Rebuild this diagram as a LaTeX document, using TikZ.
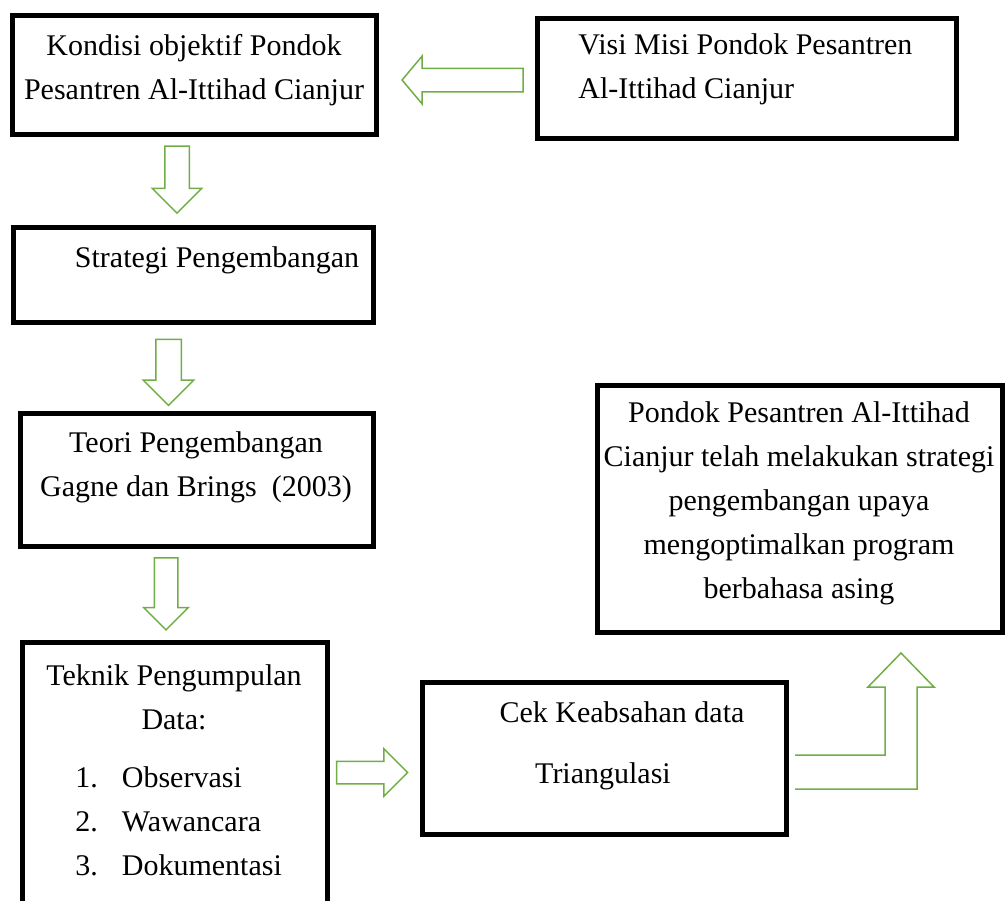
\documentclass[tikz,border=0pt]{standalone}
\usepackage{fontspec}
\setmainfont{Liberation Serif}
\usepackage{tikz}
\usetikzlibrary{shapes.arrows}

\definecolor{arrowgreen}{RGB}{112,173,71}

\begin{document}
\begin{tikzpicture}[x=0.5pt,y=-0.5pt,
    box/.style={draw, line width=2.5pt, rectangle, inner sep=0pt},
    txt/.style={align=center, inner sep=0pt, font=\fontsize{15pt}{22pt}\selectfont},
    blockarrow/.style={single arrow, draw=arrowgreen, line width=0.75pt, inner xsep=0pt,
        single arrow head indent=0pt, single arrow tip angle=90}]

    \useasboundingbox (0,0) rectangle (1007,900);

    % Boxes
    \node[box, minimum width=182pt, minimum height=59.5pt] (kondisi) at (194.5,75) {};
    \node[box, minimum width=209.5pt, minimum height=60pt] (visi) at (747,78.5) {};
    \node[box, minimum width=180pt, minimum height=47.5pt] (strategi) at (193.5,275) {};
    \node[box, minimum width=176.5pt, minimum height=66.5pt] (teori) at (197,480) {};
    \node[box, minimum width=152.5pt, minimum height=137.5pt] (teknik) at (175,780) {};
    \node[box, minimum width=182pt, minimum height=76pt] (cek) at (604.5,758.5) {};
    \node[box, minimum width=202.5pt, minimum height=123.5pt] (hasil) at (800,509) {};

    % Texts
    \node[txt] (kondisi-t) at (194,70) {Kondisi objektif Pondok\\Pesantren Al-Ittihad Cianjur};
    \node[txt, align=left, anchor=west] (visi-t) at (578,69) {Visi Misi Pondok Pesantren\\Al-Ittihad Cianjur};
    \node[txt] (strategi-t) at (217,260) {Strategi Pengembangan};
    \node[txt] (teori-t) at (196,467) {Teori Pengembangan\\Gagne dan Brings\ \ (2003)};
    \node[txt] (teknik-t) at (174,697) {Teknik Pengumpulan\\Data:};
    \node[txt, anchor=west] (teknik-l) at (75,823) {%
        \begin{tabular}{@{}l@{\hspace{12pt}}l@{}}
        1. & Observasi\\
        2. & Wawancara\\
        3. & Dokumentasi
        \end{tabular}};
    \node[txt] (cek-t) at (622,712) {Cek Keabsahan data};
    \node[txt] (cek-tri) at (603,776) {Triangulasi};
    \node[txt] (hasil-t) at (799,503.5) {Pondok Pesantren Al-Ittihad\\Cianjur telah melakukan strategi\\pengembangan upaya\\mengoptimalkan program\\berbahasa asing};

    % Block arrows
    \node[blockarrow, rotate=180, minimum height=60.5pt, inner ysep=5.5pt, single arrow head extend=6pt, single arrow tip angle=100] (visi-kondisi) at (467.5,80) {};
    \node[blockarrow, rotate=-90, minimum height=33.5pt, inner ysep=5.75pt, single arrow head extend=6.25pt] (kondisi-strategi) at (177,173.5) {};
    \node[blockarrow, rotate=-90, minimum height=33pt, inner ysep=6pt, single arrow head extend=6.25pt] (strategi-teori) at (168.5,366) {};
    \node[blockarrow, rotate=-90, minimum height=36pt, inner ysep=5.5pt, single arrow head extend=5.25pt] (teori-teknik) at (166,588) {};
    \node[blockarrow, minimum height=35.5pt, inner ysep=5.25pt, single arrow head extend=6.25pt] (teknik-cek) at (366.5,772.5) {};

    % Bent arrow up to the result
    \draw[arrowgreen, line width=0.75pt] (795,755) -- (885,755) -- (885,687) -- (868,687) -- (901,653)
        -- (934,687) -- (917,687) -- (917,789) -- (795,789);

\end{tikzpicture}
\end{document}
